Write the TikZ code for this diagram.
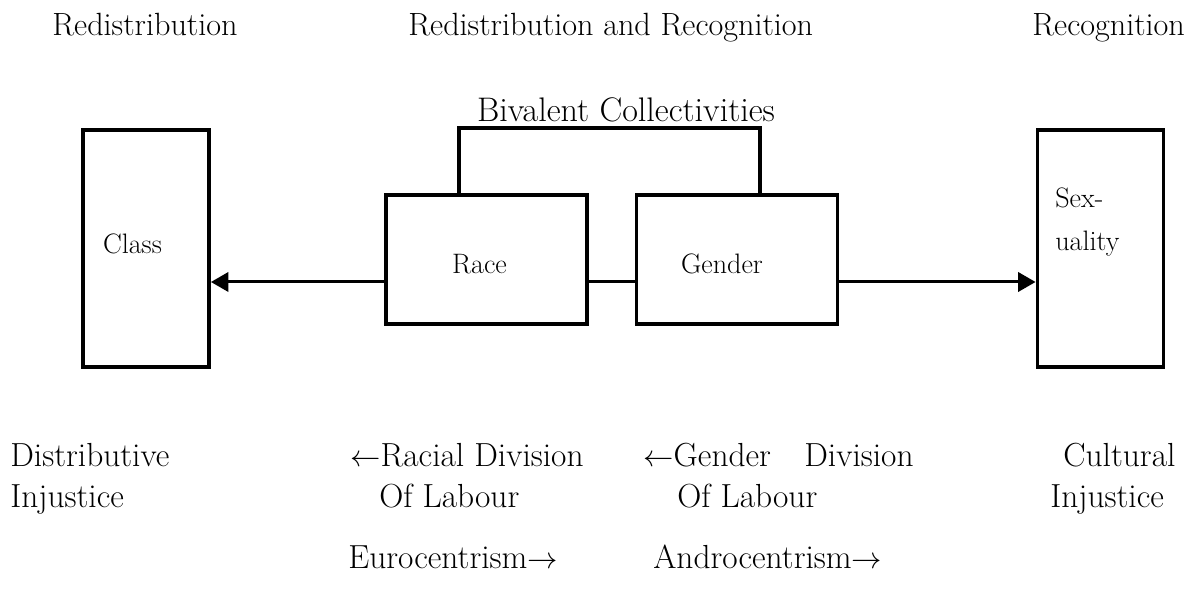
\documentclass[tikz,border=0pt]{standalone}
\usetikzlibrary{arrows.meta}

\begin{document}
\begin{tikzpicture}
	[x=0.02cm,y=-0.02cm,
	every node/.style={font=\fontsize{19}{23}\selectfont,inner sep=0pt},
	tallbox/.style={draw,line width=2.2pt,minimum width=2.52cm,minimum height=4.74cm,inner xsep=0.4cm,text width=1.72cm,align=left,font=\fontsize{16}{20}\selectfont},
	midbox/.style={draw,line width=2.2pt,minimum width=4.02cm,minimum height=2.58cm,text height=15.5pt,text depth=0pt,font=\fontsize{16}{20}\selectfont},
	toplbl/.style={anchor=base west,font=\fontsize{18.3}{22}\selectfont},
	lbl/.style={anchor=base west},
	conn/.style={line width=1.7pt},
	pointer/.style={conn,-{Triangle[length=10pt,width=11pt]}}]
	\useasboundingbox (0,0) rectangle (1190,597);
	\node [toplbl] (redis) at (52,36) {Redistribution};
	\node [toplbl] (both) at (408,36) {Redistribution and Recognition};
	\node [toplbl] (recog) at (1032,36) {Recognition};
	\node [anchor=base,font=\fontsize{19.4}{23}\selectfont] (bival) at (626,122) {Bivalent Collectivities};
	\node [tallbox,text height=11pt,text depth=5.6pt] (class) at (146,248.5) {Class};
	\node [midbox,inner xsep=1.32cm,text width=1.38cm,align=left] (race) at (486.5,259.5) {Race};
	\node [midbox,inner xsep=0.88cm,text width=2.24cm,align=left] (gender) at (737,259.5) {Gender};
	\node [tallbox] (sexuality) at (1100.5,248.5) {};
	\node [lbl,font=\fontsize{16}{20}\selectfont] (sex1) at (1055,208) {Sex-};
	\node [lbl,font=\fontsize{16}{20}\selectfont] (sex2) at (1055,251) {uality};
	\coordinate (lft) at ([yshift=-0.45cm]race.west);
	\coordinate (rgt) at ([yshift=-0.45cm]gender.east);
	\draw [line width=2.2pt] ([xshift=1.5cm]race.north west) -- ++(0,-65) -| ([xshift=2.5cm]gender.north west);
	\draw [conn] ([yshift=-0.45cm]race.east) -- ([yshift=-0.45cm]gender.west);
	\draw [pointer] (lft) -- (lft -| class.east);
	\draw [pointer] (rgt) -- (rgt -| sexuality.west);
	% bottom rows
	\node [lbl] (dist1) at (10,467) {Distributive};
	\node [lbl] (dist2) at (10,508) {Injustice};
	\node [lbl] (racial1) at (350,467) {$\leftarrow$Racial Division};
	\node [lbl] (racial2) at (379,508) {Of Labour};
	\node [lbl] (gend1) at (643,467) {$\leftarrow$Gender\quad Division};
	\node [lbl] (gend2) at (677,508) {Of Labour};
	\node [lbl] (cult1) at (1063,467) {Cultural};
	\node [lbl] (cult2) at (1050,508) {Injustice};
	\node [lbl] (euro) at (348,568) {Eurocentrism$\rightarrow$};
	\node [lbl] (andro) at (653,568) {Androcentrism$\rightarrow$};
\end{tikzpicture}
\end{document}
